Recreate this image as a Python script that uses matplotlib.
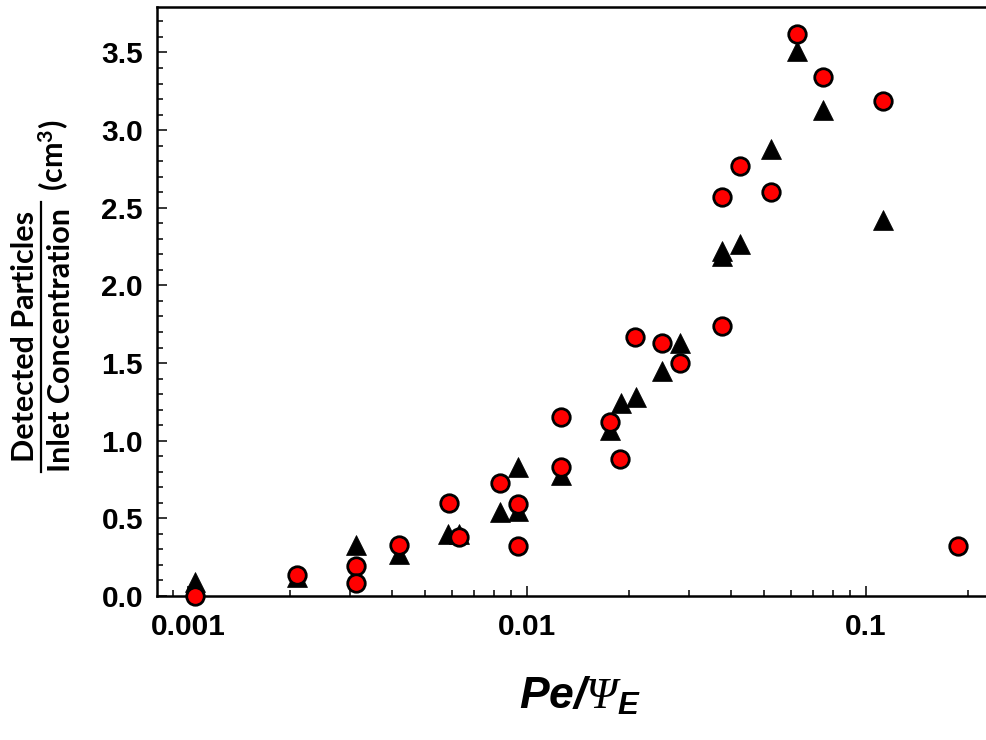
import numpy as np
import matplotlib
matplotlib.use("Agg")
import matplotlib.pyplot as plt
from matplotlib.lines import Line2D
from matplotlib.ticker import FixedLocator, FixedFormatter, MultipleLocator, LogLocator, NullFormatter

plt.rcParams["font.family"] = ["Liberation Sans", "DejaVu Sans"]
plt.rcParams["mathtext.fontset"] = "custom"
plt.rcParams["mathtext.bfit"] = "Liberation Sans:bold:italic"
plt.rcParams["mathtext.it"] = "Liberation Serif:italic"
# Greek capitals come from the rm slot in mathtext
plt.rcParams["mathtext.rm"] = "Liberation Serif:italic"
plt.rcParams["mathtext.bf"] = "Lato:bold"

# triangles (first data set)
tri_x = [0.00105, 0.00209, 0.00313, 0.00419, 0.00585, 0.00629, 0.00834,
         0.00944, 0.00944, 0.01258, 0.01754, 0.0190, 0.02093, 0.0250,
         0.02821, 0.0376, 0.0376, 0.0425, 0.0527, 0.0628, 0.0750, 0.1128]
tri_y = [0.09, 0.12, 0.33, 0.27, 0.40, 0.40, 0.54,
         0.83, 0.55, 0.78, 1.07, 1.24, 1.28, 1.45,
         1.63, 2.22, 2.19, 2.27, 2.88, 3.51, 3.13, 2.42]

# circles (second data set)
circ_x = [0.00105, 0.00209, 0.00313, 0.00313, 0.00419, 0.00587, 0.00629,
          0.00834, 0.00944, 0.00944, 0.01258, 0.01258, 0.01754, 0.01881,
          0.02089, 0.0250, 0.02821, 0.0376, 0.0376, 0.0425, 0.0527,
          0.0628, 0.0750, 0.1128, 0.1868]
circ_y = [0.0, 0.135, 0.19, 0.085, 0.33, 0.60, 0.38,
          0.73, 0.59, 0.32, 1.15, 0.83, 1.12, 0.88,
          1.67, 1.63, 1.50, 2.57, 1.74, 2.77, 2.60,
          3.62, 3.34, 3.19, 0.32]

xticks = [0.001, 0.01, 0.1]
xticklabels = ["0.001", "0.01", "0.1"]
yticks = [0.0, 0.5, 1.0, 1.5, 2.0, 2.5, 3.0, 3.5]

fig = plt.figure(figsize=(9.87, 7.4), dpi=100)
ax = fig.add_axes([157 / 987, 1 - 596 / 740, 830 / 987, 589 / 740])

ax.plot(tri_x, tri_y, linestyle="none", marker="^", ms=14.5, mfc="black",
        mec="black", mew=0.5, clip_on=False, zorder=3)
ax.plot(circ_x, circ_y, linestyle="none", marker="o", ms=12.6, mfc="red",
        mec="black", mew=2.0, clip_on=False, zorder=4)

ax.set_xscale("log")
ax.set_xlim(0.000809, 0.228)
ax.set_ylim(0, 3.793)

ax.xaxis.set_major_locator(FixedLocator(xticks))
ax.xaxis.set_major_formatter(FixedFormatter(xticklabels))
ax.xaxis.set_minor_locator(LogLocator(base=10, subs=np.arange(2, 10)))
ax.xaxis.set_minor_formatter(NullFormatter())
ax.set_yticks(yticks)
ax.set_yticklabels(["%.1f" % v for v in yticks])
ax.yaxis.set_minor_locator(MultipleLocator(0.1))

for s in ["left", "bottom", "top"]:
    ax.spines[s].set_linewidth(1.8)
ax.spines["right"].set_visible(False)

ax.tick_params(which="both", direction="in", top=False, right=False, width=1.1)
ax.tick_params(which="major", length=7)
ax.tick_params(which="minor", length=4.5)
ax.tick_params(axis="y", which="major", labelsize=21.5, pad=10)
ax.tick_params(axis="x", which="major", labelsize=21.5, pad=12)
for lab in ax.get_xticklabels() + ax.get_yticklabels():
    lab.set_fontweight("bold")

# x axis label
fig.text(580 / 987, 1 - 708 / 740, r"$\mathbfit{Pe/}\Psi_{\mathbfit{E}}$",
         fontsize=32, ha="center", va="baseline")

# y axis label drawn as a fraction
lab_font = dict(family=["Lato", "DejaVu Sans"], fontweight="bold", fontsize=22,
                rotation=90, ha="center", va="center")
fig.text(25 / 987, 1 - 336.5 / 740, "Detected Particles", **lab_font)
fig.text(61 / 987, 1 - 340 / 740, "Inlet Concentration", **lab_font)
fig.add_artist(Line2D([41 / 987, 41 / 987], [1 - 202 / 740, 1 - 472 / 740],
                      color="black", lw=1.6, transform=fig.transFigure))
fig.text(54 / 987, 1 - 155 / 740, r"(cm$^\mathbf{3}$)", **lab_font)

fig.savefig("out.png", dpi=100)
